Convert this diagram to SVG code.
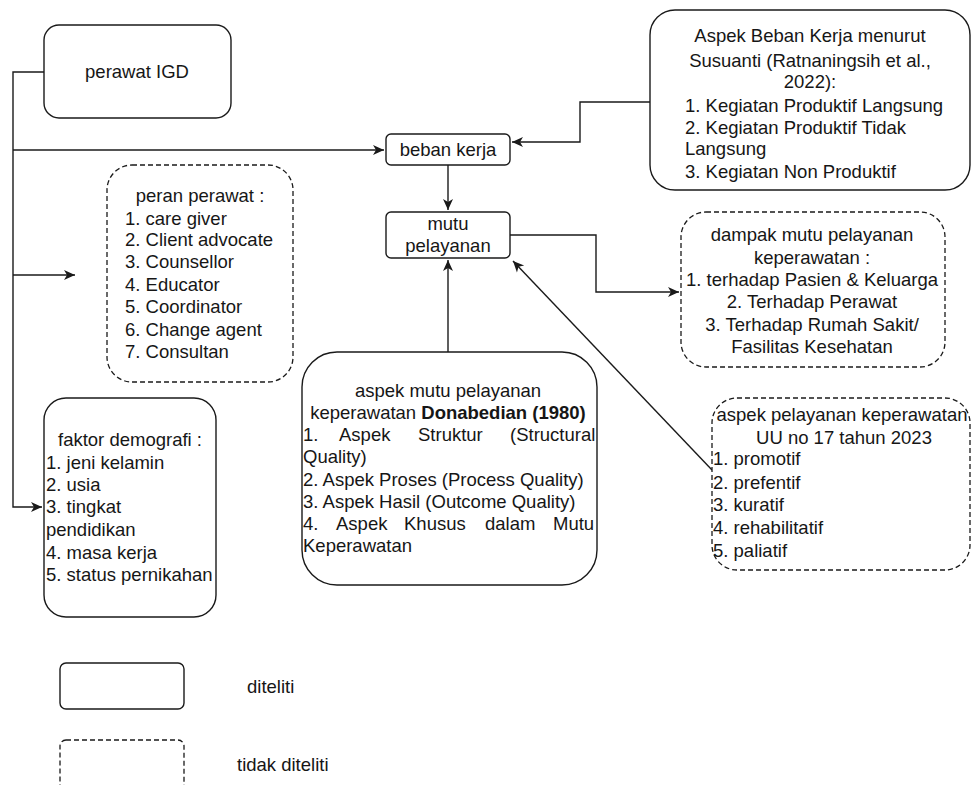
<svg xmlns="http://www.w3.org/2000/svg" width="972" height="785" viewBox="0 0 972 785">
<style>
.t{font-family:"Liberation Sans",Arial,sans-serif;font-size:18.5px;fill:#161616}
.c{text-anchor:middle}
.b{font-weight:bold}
.box{fill:#fff;stroke:#1a1a1a;stroke-width:1.4}
.dash{fill:#fff;stroke:#1a1a1a;stroke-width:1.3;stroke-dasharray:5,3}
.ln{fill:none;stroke:#1a1a1a;stroke-width:1.4}
</style>
<defs>
<marker id="arr" viewBox="0 0 12 12" refX="11" refY="6" markerWidth="12" markerHeight="12" orient="auto" markerUnits="userSpaceOnUse">
<path d="M0,1 L11,6 L0,11 L3,6 z" fill="#1a1a1a"/>
</marker>
</defs>
<rect width="972" height="785" fill="#fff"/>

<g id="connectors">
<path class="ln" d="M44,72 H13 V507 H42" marker-end="url(#arr)"/>
<path class="ln" d="M13,150 H384" marker-end="url(#arr)"/>
<path class="ln" d="M13,275 H75" marker-end="url(#arr)"/>
<path class="ln" d="M650,102 H580 V142 H512" marker-end="url(#arr)"/>
<path class="ln" d="M448,165 V210" marker-end="url(#arr)"/>
<path class="ln" d="M448,352 V260" marker-end="url(#arr)"/>
<path class="ln" d="M510,235 H596 V292 H679" marker-end="url(#arr)"/>
<path class="ln" d="M712,470 L513,261" marker-end="url(#arr)"/>
</g>

<g id="perawat-igd">
<rect class="box" x="44" y="25" width="187" height="93" rx="15"/>
<text class="t c" x="137" y="78">perawat IGD</text>
</g>

<g id="beban-kerja">
<rect class="box" x="386" y="134" width="124" height="31" rx="5"/>
<text class="t c" x="448" y="156">beban kerja</text>
</g>

<g id="aspek-beban-kerja">
<rect class="box" x="650" y="10" width="320" height="180" rx="25"/>
<text class="t c" x="810" y="42">Aspek Beban Kerja menurut</text>
<text class="t c" x="810" y="67">Susuanti (Ratnaningsih et al.,</text>
<text class="t c" x="810" y="88">2022):</text>
<text class="t" x="685" y="112">1. Kegiatan Produktif Langsung</text>
<text class="t" x="685" y="134">2. Kegiatan Produktif Tidak</text>
<text class="t" x="685" y="155">Langsung</text>
<text class="t" x="685" y="178">3. Kegiatan Non Produktif</text>
</g>

<g id="mutu-pelayanan">
<rect class="box" x="386" y="212" width="124" height="46" rx="5"/>
<text class="t c" x="448" y="230">mutu</text>
<text class="t c" x="448" y="252">pelayanan</text>
</g>

<g id="peran-perawat">
<rect class="dash" x="107" y="165" width="186" height="217" rx="25"/>
<text class="t c" x="200" y="202">peran perawat :</text>
<text class="t" x="125" y="225">1. care giver</text>
<text class="t" x="125" y="246">2. Client advocate</text>
<text class="t" x="125" y="268">3. Counsellor</text>
<text class="t" x="125" y="291">4. Educator</text>
<text class="t" x="125" y="313">5. Coordinator</text>
<text class="t" x="125" y="336">6. Change agent</text>
<text class="t" x="125" y="358">7. Consultan</text>
</g>

<g id="dampak-mutu">
<rect class="dash" x="681" y="212" width="264" height="155" rx="25"/>
<text class="t c" x="812" y="241">dampak mutu pelayanan</text>
<text class="t c" x="812" y="264">keperawatan :</text>
<text class="t c" x="812" y="286">1. terhadap Pasien &amp; Keluarga</text>
<text class="t c" x="812" y="308">2. Terhadap Perawat</text>
<text class="t c" x="812" y="331">3. Terhadap Rumah Sakit/</text>
<text class="t c" x="812" y="353">Fasilitas Kesehatan</text>
</g>

<g id="faktor-demografi">
<rect class="box" x="44" y="398" width="172" height="219" rx="22"/>
<text class="t c" x="130" y="446">faktor demografi :</text>
<text class="t" x="46" y="469">1. jeni kelamin</text>
<text class="t" x="46" y="491">2. usia</text>
<text class="t" x="46" y="513">3. tingkat</text>
<text class="t" x="46" y="536">pendidikan</text>
<text class="t" x="46" y="559">4. masa kerja</text>
<text class="t" x="46" y="581">5. status pernikahan</text>
</g>

<g id="aspek-mutu-donabedian">
<rect class="box" x="302" y="352" width="295" height="233" rx="35"/>
<text class="t c" x="448" y="397">aspek mutu pelayanan</text>
<text class="t c" x="448" y="419">keperawatan <tspan class="b">Donabedian (1980)</tspan></text>
<text class="t" y="441"><tspan x="303">1.</tspan><tspan x="339">Aspek</tspan><tspan x="418">Struktur</tspan><tspan x="510">(Structural</tspan></text>
<text class="t" x="303" y="463">Quality)</text>
<text class="t" x="303" y="486">2. Aspek Proses (Process Quality)</text>
<text class="t" x="303" y="508">3. Aspek Hasil (Outcome Quality)</text>
<text class="t" y="530"><tspan x="303">4.</tspan><tspan x="336">Aspek</tspan><tspan x="404">Khusus</tspan><tspan x="485">dalam</tspan><tspan x="553">Mutu</tspan></text>
<text class="t" x="303" y="552">Keperawatan</text>
</g>

<g id="aspek-pelayanan-uu">
<rect class="dash" x="712" y="398" width="258" height="172" rx="25"/>
<text class="t c" x="842" y="421">aspek pelayanan keperawatan</text>
<text class="t c" x="844" y="444">UU no 17 tahun 2023</text>
<text class="t" x="713" y="465">1. promotif</text>
<text class="t" x="713" y="489">2. prefentif</text>
<text class="t" x="713" y="511">3. kuratif</text>
<text class="t" x="713" y="534">4. rehabilitatif</text>
<text class="t" x="713" y="557">5. paliatif</text>
</g>

<g id="legend-diteliti">
<rect class="box" x="60" y="663" width="124" height="46" rx="6"/>
<text class="t" x="247" y="693">diteliti</text>
</g>

<g id="legend-tidak-diteliti">
<rect class="dash" x="60" y="740" width="124" height="60" rx="6"/>
<text class="t" x="237" y="771">tidak diteliti</text>
</g>
</svg>
